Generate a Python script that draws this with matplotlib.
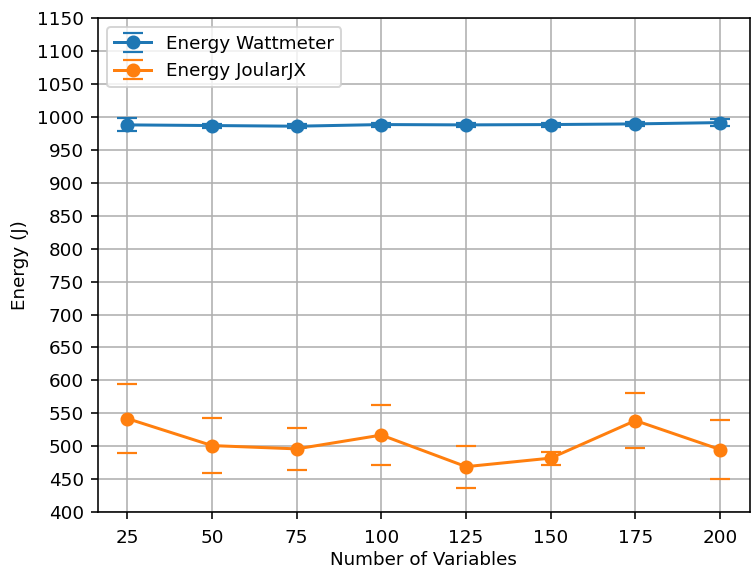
import matplotlib
matplotlib.use("Agg")
import matplotlib.pyplot as plt

# number of variables on x
n_vars = [25, 50, 75, 100, 125, 150, 175, 200]

# wattmeter readings (mean, std)
watt_mean = [988, 987, 986, 988.5, 988, 988.5, 989.5, 991.5]
watt_err = [10, 3, 3, 3, 3, 3, 3, 5]

# JoularJX readings (mean, std)
joular_mean = [542, 501, 496, 517, 469, 482, 539, 495]
joular_err = [52, 42, 32, 45, 32, 10, 42, 45]

plt.rcParams["font.size"] = 9.2

fig, ax = plt.subplots(figsize=(752 / 144, 569 / 144), dpi=144)
fig.subplots_adjust(left=0.13, right=0.997, top=0.968, bottom=0.1)

# error lines are not visible in the original, only the caps
ax.errorbar(n_vars, watt_mean, yerr=watt_err, fmt="-o", capsize=5, elinewidth=0,
            capthick=1.1, label="Energy Wattmeter")
ax.errorbar(n_vars, joular_mean, yerr=joular_err, fmt="-o", capsize=5, elinewidth=0,
            capthick=1.1, label="Energy JoularJX")

ax.set_xlabel("Number of Variables", labelpad=2)
ax.set_ylabel("Energy (J)")
ax.set_xticks(n_vars)
ax.set_yticks(range(400, 1151, 50))
ax.set_ylim(400, 1150)
ax.tick_params(axis="x", pad=5)
ax.grid(True)
ax.legend(loc="upper left")

fig.savefig("out.png", dpi=144)
